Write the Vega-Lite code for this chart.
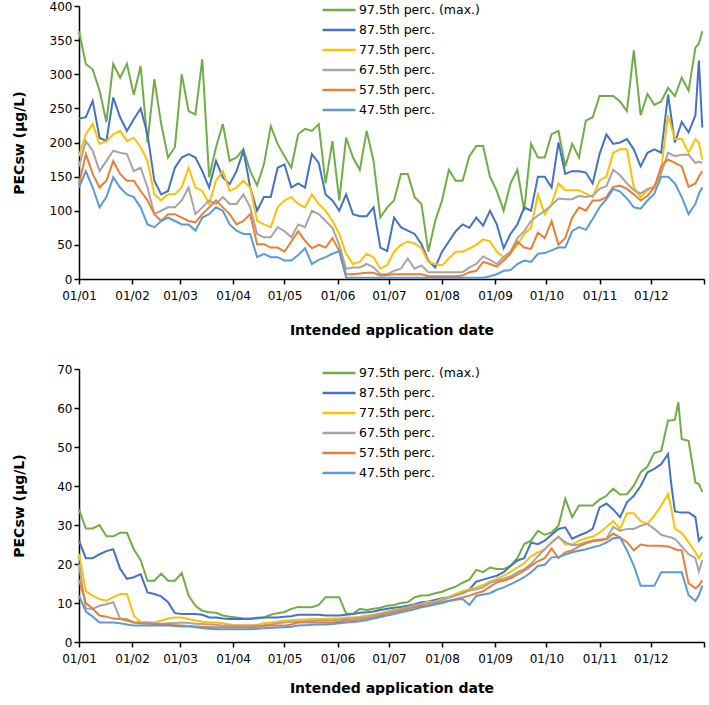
{
"$schema":"https://vega.github.io/schema/vega-lite/v6.json",
"padding":{"left":12,"top":0,"right":0,"bottom":0},
"autosize":{"type":"pad"},
"spacing":26,
"config":{
"view":{"stroke":null},
"font":"DejaVu Sans",
"axis":{"grid":false,"domainColor":"#000","tickColor":"#000","labelColor":"#000","titleColor":"#000","labelFont":"DejaVu Sans","labelFontSize":12,"titleFont":"DejaVu Sans","titleFontSize":14,"titleFontWeight":"bold","tickSize":5,"domainWidth":1.5,"tickWidth":1.5},
"legend":{"symbolType":"M-3,0H3","symbolSize":121,"symbolStrokeWidth":2.5,"labelFont":"DejaVu Sans","labelFontSize":12.5,"labelColor":"#000","rowPadding":6,"labelOffset":13,"padding":0}
},
"datasets":{
"top":[
{"d":"2021-01-01","g":363,"b":235,"y":180,"k":165,"o":139,"l":134},
{"d":"2021-01-05","g":315,"b":237,"y":212,"k":202,"o":183,"l":158},
{"d":"2021-01-09","g":307,"b":261,"y":227,"k":188,"o":154,"l":134},
{"d":"2021-01-13","g":276,"b":207,"y":198,"k":158,"o":134,"l":105},
{"d":"2021-01-17","g":230,"b":202,"y":202,"k":173,"o":144,"l":120},
{"d":"2021-01-21","g":315,"b":266,"y":212,"k":188,"o":173,"l":149},
{"d":"2021-01-25","g":295,"b":237,"y":217,"k":185,"o":154,"l":134},
{"d":"2021-01-29","g":315,"b":217,"y":202,"k":183,"o":144,"l":124},
{"d":"2021-02-02","g":270,"b":234,"y":207,"k":158,"o":144,"l":120},
{"d":"2021-02-06","g":312,"b":250,"y":193,"k":163,"o":129,"l":105},
{"d":"2021-02-10","g":200,"b":212,"y":173,"k":134,"o":115,"l":80},
{"d":"2021-02-14","g":293,"b":144,"y":124,"k":95,"o":95,"l":76},
{"d":"2021-02-18","g":227,"b":124,"y":115,"k":100,"o":85,"l":85},
{"d":"2021-02-22","g":178,"b":129,"y":124,"k":105,"o":95,"l":90},
{"d":"2021-02-26","g":193,"b":163,"y":124,"k":105,"o":95,"l":85},
{"d":"2021-03-02","g":300,"b":178,"y":134,"k":115,"o":90,"l":80},
{"d":"2021-03-06","g":246,"b":183,"y":163,"k":134,"o":85,"l":80},
{"d":"2021-03-10","g":241,"b":178,"y":134,"k":95,"o":83,"l":71},
{"d":"2021-03-14","g":322,"b":158,"y":129,"k":105,"o":95,"l":90},
{"d":"2021-03-18","g":149,"b":134,"y":110,"k":115,"o":105,"l":95},
{"d":"2021-03-22","g":193,"b":173,"y":144,"k":110,"o":115,"l":105},
{"d":"2021-03-26","g":227,"b":149,"y":158,"k":120,"o":105,"l":100},
{"d":"2021-03-30","g":173,"b":139,"y":129,"k":110,"o":95,"l":80},
{"d":"2021-04-03","g":178,"b":158,"y":134,"k":110,"o":80,"l":71},
{"d":"2021-04-07","g":190,"b":188,"y":144,"k":124,"o":85,"l":66},
{"d":"2021-04-11","g":158,"b":134,"y":134,"k":105,"o":95,"l":66},
{"d":"2021-04-15","g":137,"b":100,"y":85,"k":66,"o":51,"l":32},
{"d":"2021-04-19","g":168,"b":120,"y":80,"k":61,"o":51,"l":37},
{"d":"2021-04-23","g":224,"b":120,"y":76,"k":61,"o":46,"l":32},
{"d":"2021-04-27","g":198,"b":163,"y":105,"k":76,"o":46,"l":32},
{"d":"2021-05-01","g":180,"b":168,"y":115,"k":70,"o":40,"l":27},
{"d":"2021-05-05","g":163,"b":134,"y":120,"k":61,"o":55,"l":27},
{"d":"2021-05-09","g":212,"b":140,"y":110,"k":80,"o":70,"l":35},
{"d":"2021-05-13","g":220,"b":134,"y":105,"k":76,"o":56,"l":45},
{"d":"2021-05-17","g":217,"b":183,"y":124,"k":100,"o":45,"l":22},
{"d":"2021-05-21","g":227,"b":170,"y":110,"k":95,"o":50,"l":28},
{"d":"2021-05-25","g":140,"b":124,"y":100,"k":85,"o":46,"l":32},
{"d":"2021-05-29","g":202,"b":115,"y":85,"k":75,"o":60,"l":37},
{"d":"2021-06-02","g":115,"b":100,"y":66,"k":50,"o":41,"l":41},
{"d":"2021-06-06","g":207,"b":124,"y":37,"k":15,"o":7,"l":2},
{"d":"2021-06-10","g":178,"b":95,"y":22,"k":17,"o":7,"l":2},
{"d":"2021-06-14","g":160,"b":92,"y":25,"k":17,"o":8,"l":2},
{"d":"2021-06-18","g":217,"b":92,"y":37,"k":22,"o":9,"l":2},
{"d":"2021-06-22","g":173,"b":105,"y":32,"k":17,"o":9,"l":2},
{"d":"2021-06-26","g":90,"b":46,"y":15,"k":7,"o":5,"l":2},
{"d":"2021-06-30","g":105,"b":41,"y":20,"k":7,"o":6,"l":2},
{"d":"2021-07-04","g":115,"b":90,"y":40,"k":12,"o":7,"l":2},
{"d":"2021-07-08","g":154,"b":76,"y":50,"k":15,"o":7,"l":2},
{"d":"2021-07-12","g":154,"b":71,"y":55,"k":30,"o":7,"l":2},
{"d":"2021-07-16","g":120,"b":66,"y":52,"k":15,"o":7,"l":2},
{"d":"2021-07-20","g":110,"b":51,"y":45,"k":20,"o":7,"l":2},
{"d":"2021-07-24","g":40,"b":27,"y":25,"k":10,"o":4,"l":2},
{"d":"2021-07-28","g":85,"b":17,"y":22,"k":10,"o":4,"l":2},
{"d":"2021-08-01","g":115,"b":40,"y":20,"k":10,"o":4,"l":2},
{"d":"2021-08-05","g":160,"b":55,"y":30,"k":10,"o":4,"l":2},
{"d":"2021-08-09","g":144,"b":70,"y":40,"k":10,"o":4,"l":2},
{"d":"2021-08-13","g":144,"b":80,"y":40,"k":10,"o":5,"l":2},
{"d":"2021-08-17","g":180,"b":75,"y":45,"k":17,"o":10,"l":2},
{"d":"2021-08-21","g":195,"b":90,"y":50,"k":22,"o":12,"l":2},
{"d":"2021-08-25","g":195,"b":78,"y":58,"k":33,"o":25,"l":2},
{"d":"2021-08-29","g":150,"b":100,"y":55,"k":28,"o":22,"l":4},
{"d":"2021-09-02","g":129,"b":80,"y":40,"k":22,"o":18,"l":7},
{"d":"2021-09-06","g":100,"b":45,"y":32,"k":32,"o":27,"l":12},
{"d":"2021-09-10","g":140,"b":66,"y":40,"k":40,"o":37,"l":13},
{"d":"2021-09-14","g":160,"b":80,"y":50,"k":60,"o":55,"l":22},
{"d":"2021-09-18","g":100,"b":105,"y":66,"k":70,"o":46,"l":27},
{"d":"2021-09-22","g":198,"b":100,"y":75,"k":85,"o":44,"l":25},
{"d":"2021-09-26","g":178,"b":150,"y":124,"k":93,"o":68,"l":37},
{"d":"2021-09-30","g":178,"b":150,"y":95,"k":100,"o":60,"l":38},
{"d":"2021-10-04","g":212,"b":134,"y":110,"k":108,"o":85,"l":42},
{"d":"2021-10-08","g":217,"b":200,"y":140,"k":118,"o":50,"l":46},
{"d":"2021-10-12","g":165,"b":154,"y":130,"k":117,"o":60,"l":46},
{"d":"2021-10-16","g":198,"b":158,"y":130,"k":117,"o":90,"l":70},
{"d":"2021-10-20","g":178,"b":158,"y":130,"k":122,"o":105,"l":76},
{"d":"2021-10-24","g":232,"b":156,"y":125,"k":120,"o":100,"l":72},
{"d":"2021-10-28","g":237,"b":140,"y":120,"k":122,"o":115,"l":88},
{"d":"2021-11-01","g":268,"b":183,"y":144,"k":132,"o":115,"l":105},
{"d":"2021-11-05","g":268,"b":212,"y":150,"k":136,"o":120,"l":117},
{"d":"2021-11-09","g":268,"b":198,"y":185,"k":160,"o":135,"l":132},
{"d":"2021-11-13","g":260,"b":200,"y":190,"k":152,"o":137,"l":128},
{"d":"2021-11-17","g":246,"b":205,"y":190,"k":140,"o":132,"l":118},
{"d":"2021-11-21","g":335,"b":190,"y":134,"k":130,"o":124,"l":105},
{"d":"2021-11-25","g":240,"b":165,"y":120,"k":125,"o":115,"l":103},
{"d":"2021-11-29","g":271,"b":185,"y":130,"k":132,"o":122,"l":115},
{"d":"2021-12-03","g":255,"b":190,"y":135,"k":135,"o":134,"l":125},
{"d":"2021-12-07","g":260,"b":185,"y":160,"k":155,"o":165,"l":150},
{"d":"2021-12-11","g":280,"b":270,"y":240,"k":185,"o":175,"l":150},
{"d":"2021-12-15","g":268,"b":200,"y":205,"k":180,"o":170,"l":140},
{"d":"2021-12-19","g":295,"b":230,"y":205,"k":182,"o":165,"l":120},
{"d":"2021-12-23","g":276,"b":215,"y":185,"k":182,"o":135,"l":95},
{"d":"2021-12-27","g":339,"b":240,"y":205,"k":170,"o":140,"l":110},
{"d":"2021-12-29","g":345,"b":320,"y":200,"k":172,"o":150,"l":125},
{"d":"2021-12-31","g":363,"b":222,"y":175,"k":170,"o":158,"l":134}
],
"bot":[
{"d":"2021-01-01","g":34,"b":26,"y":22.6,"k":20,"o":16,"l":11.9},
{"d":"2021-01-05","g":29.1,"b":21.5,"y":13,"k":8.5,"o":10,"l":7.8},
{"d":"2021-01-09","g":29.1,"b":21.5,"y":11.9,"k":8.5,"o":8.5,"l":6.5},
{"d":"2021-01-13","g":30,"b":22.5,"y":11,"k":9.3,"o":6.8,"l":5},
{"d":"2021-01-17","g":27.1,"b":23.3,"y":10.6,"k":9.7,"o":6.5,"l":5},
{"d":"2021-01-21","g":27.1,"b":23.8,"y":11.5,"k":10.2,"o":6,"l":5},
{"d":"2021-01-25","g":28,"b":18.8,"y":12.3,"k":6,"o":5.9,"l":4.8},
{"d":"2021-01-29","g":28,"b":16.2,"y":12.3,"k":5.9,"o":5.5,"l":4.5},
{"d":"2021-02-02","g":23.8,"b":16.6,"y":6.8,"k":5,"o":5,"l":4.2},
{"d":"2021-02-06","g":21,"b":17.4,"y":5,"k":5,"o":4.8,"l":4.2},
{"d":"2021-02-10","g":15.7,"b":12.7,"y":5,"k":5,"o":4.7,"l":4.2},
{"d":"2021-02-14","g":15.7,"b":12.3,"y":5,"k":4.8,"o":4.6,"l":4.2},
{"d":"2021-02-18","g":17.5,"b":11.7,"y":5.5,"k":4.7,"o":4.5,"l":4.2},
{"d":"2021-02-22","g":15.7,"b":10.2,"y":6,"k":4.8,"o":4.4,"l":4.2},
{"d":"2021-02-26","g":15.7,"b":7.4,"y":6.3,"k":4.9,"o":4.3,"l":4.1},
{"d":"2021-03-02","g":17.7,"b":7.2,"y":6.3,"k":5,"o":4.2,"l":4},
{"d":"2021-03-06","g":11.9,"b":7.2,"y":5.9,"k":4.9,"o":4.1,"l":4},
{"d":"2021-03-10","g":9.3,"b":7.2,"y":5.5,"k":4.7,"o":4,"l":3.8},
{"d":"2021-03-14","g":8,"b":7,"y":5.2,"k":4.6,"o":3.9,"l":3.6},
{"d":"2021-03-18","g":7.6,"b":6.3,"y":5,"k":4.5,"o":3.8,"l":3.4},
{"d":"2021-03-22","g":7.5,"b":6.3,"y":5,"k":4.4,"o":3.8,"l":3.3},
{"d":"2021-03-26","g":6.8,"b":6,"y":4.8,"k":4.2,"o":3.8,"l":3.3},
{"d":"2021-03-30","g":6.5,"b":5.9,"y":4.5,"k":4.2,"o":3.8,"l":3.3},
{"d":"2021-04-03","g":6.3,"b":5.9,"y":4.2,"k":4.2,"o":3.8,"l":3.3},
{"d":"2021-04-07","g":6,"b":5.9,"y":4.2,"k":4.2,"o":3.8,"l":3.3},
{"d":"2021-04-11","g":6,"b":5.9,"y":4.2,"k":4.2,"o":3.8,"l":3.3},
{"d":"2021-04-15","g":6,"b":6.2,"y":4.4,"k":4.2,"o":3.9,"l":3.4},
{"d":"2021-04-19","g":6.3,"b":6.3,"y":4.8,"k":4.3,"o":4.1,"l":3.5},
{"d":"2021-04-23","g":7,"b":6.3,"y":5,"k":4.5,"o":4.2,"l":3.6},
{"d":"2021-04-27","g":7.4,"b":6.3,"y":5.2,"k":4.8,"o":4.2,"l":3.7},
{"d":"2021-05-01","g":7.7,"b":6.5,"y":5.5,"k":5,"o":4.2,"l":3.8},
{"d":"2021-05-05","g":8.5,"b":6.6,"y":5.6,"k":5.2,"o":4.5,"l":3.9},
{"d":"2021-05-09","g":9,"b":7,"y":5.7,"k":5.2,"o":5,"l":4.2},
{"d":"2021-05-13","g":8.9,"b":7,"y":5.8,"k":5.3,"o":5,"l":4.3},
{"d":"2021-05-17","g":8.9,"b":7,"y":5.9,"k":5.4,"o":5,"l":4.4},
{"d":"2021-05-21","g":9.5,"b":7,"y":5.9,"k":5.5,"o":5,"l":4.5},
{"d":"2021-05-25","g":11.5,"b":6.8,"y":5.9,"k":5.5,"o":5,"l":4.5},
{"d":"2021-05-29","g":11.5,"b":6.8,"y":6,"k":5.6,"o":5,"l":4.6},
{"d":"2021-06-02","g":11.5,"b":6.8,"y":6,"k":5.7,"o":5.2,"l":4.8},
{"d":"2021-06-06","g":7.3,"b":7,"y":6.3,"k":5.9,"o":5.5,"l":5},
{"d":"2021-06-10","g":7.2,"b":7.2,"y":6.3,"k":6,"o":5.5,"l":5.1},
{"d":"2021-06-14","g":8.5,"b":7.5,"y":6.5,"k":6.2,"o":5.8,"l":5.3},
{"d":"2021-06-18","g":8.2,"b":7.6,"y":6.8,"k":6.4,"o":6,"l":5.6},
{"d":"2021-06-22","g":8.5,"b":7.8,"y":7,"k":6.8,"o":6.3,"l":6},
{"d":"2021-06-26","g":8.8,"b":8.2,"y":7.4,"k":7.2,"o":6.8,"l":6.4},
{"d":"2021-06-30","g":9.3,"b":8.5,"y":7.8,"k":7.6,"o":7.2,"l":6.8},
{"d":"2021-07-04","g":9.5,"b":8.8,"y":8.3,"k":8,"o":7.6,"l":7.2},
{"d":"2021-07-08","g":10,"b":9,"y":8.5,"k":8.5,"o":8,"l":7.6},
{"d":"2021-07-12","g":10.2,"b":9.3,"y":8.8,"k":9,"o":8.5,"l":8},
{"d":"2021-07-16","g":11.5,"b":9.7,"y":9,"k":9.5,"o":8.9,"l":8.4},
{"d":"2021-07-20","g":11.9,"b":10.2,"y":9.8,"k":9.7,"o":9.3,"l":8.9},
{"d":"2021-07-24","g":12,"b":10.4,"y":10.3,"k":10,"o":9.5,"l":9.2},
{"d":"2021-07-28","g":12.5,"b":10.8,"y":10.4,"k":10.2,"o":9.8,"l":9.6},
{"d":"2021-08-01","g":12.9,"b":11.2,"y":11,"k":10.7,"o":10.2,"l":10},
{"d":"2021-08-05","g":13.6,"b":11.5,"y":11.5,"k":11.3,"o":10.6,"l":10.5},
{"d":"2021-08-09","g":14.2,"b":12,"y":12.3,"k":12,"o":11,"l":10.8},
{"d":"2021-08-13","g":15.2,"b":12.5,"y":13,"k":12.5,"o":11.4,"l":11},
{"d":"2021-08-17","g":16,"b":13.5,"y":13.5,"k":13.2,"o":11.9,"l":9.5},
{"d":"2021-08-21","g":18.5,"b":15.5,"y":14,"k":13.5,"o":12.5,"l":11.8},
{"d":"2021-08-25","g":17.9,"b":16,"y":14.6,"k":14,"o":13,"l":12.2},
{"d":"2021-08-29","g":19.1,"b":16.5,"y":15.5,"k":15.2,"o":14.2,"l":12.5},
{"d":"2021-09-02","g":18.7,"b":17,"y":16.2,"k":15.8,"o":15.3,"l":13.4},
{"d":"2021-09-06","g":18.7,"b":17.9,"y":17,"k":16.2,"o":15.7,"l":14},
{"d":"2021-09-10","g":19.6,"b":19.5,"y":18,"k":16.8,"o":16.3,"l":14.8},
{"d":"2021-09-14","g":21.5,"b":20.9,"y":19.1,"k":17.9,"o":17.3,"l":15.7},
{"d":"2021-09-18","g":25.1,"b":21.5,"y":20.2,"k":18.7,"o":18.3,"l":16.6},
{"d":"2021-09-22","g":26,"b":25.5,"y":22,"k":20,"o":19.5,"l":17.9},
{"d":"2021-09-26","g":28.5,"b":25.1,"y":23,"k":22,"o":20.7,"l":19.5},
{"d":"2021-09-30","g":27.5,"b":26,"y":23.8,"k":23.8,"o":21.5,"l":19.8},
{"d":"2021-10-04","g":28.1,"b":27.5,"y":25.5,"k":25.5,"o":24,"l":21.7},
{"d":"2021-10-08","g":29.8,"b":29,"y":27,"k":27,"o":21.5,"l":21.8},
{"d":"2021-10-12","g":36.7,"b":29.4,"y":25,"k":25.6,"o":23,"l":22.4},
{"d":"2021-10-16","g":32,"b":26.5,"y":25,"k":24.8,"o":23.5,"l":23},
{"d":"2021-10-20","g":35,"b":27.3,"y":26,"k":25,"o":24.5,"l":23.4},
{"d":"2021-10-24","g":35,"b":28,"y":26.6,"k":25.6,"o":25.3,"l":23.8},
{"d":"2021-10-28","g":35,"b":29,"y":27,"k":26,"o":25.8,"l":24.3},
{"d":"2021-11-01","g":36.5,"b":34.5,"y":28,"k":26.3,"o":26,"l":24.7},
{"d":"2021-11-05","g":37.5,"b":35.5,"y":29.5,"k":26.5,"o":26.3,"l":25.5},
{"d":"2021-11-09","g":39.3,"b":34,"y":31,"k":29.5,"o":27.8,"l":26.6},
{"d":"2021-11-13","g":37.8,"b":32,"y":29,"k":28.5,"o":26.8,"l":26.8},
{"d":"2021-11-17","g":37.9,"b":35.8,"y":33,"k":29,"o":25.6,"l":23.5},
{"d":"2021-11-21","g":40.1,"b":37.5,"y":33,"k":29,"o":23.5,"l":19.6},
{"d":"2021-11-25","g":43.5,"b":40,"y":31,"k":29.8,"o":25,"l":14.4},
{"d":"2021-11-29","g":45,"b":43.5,"y":30.3,"k":30.3,"o":24.7,"l":14.4},
{"d":"2021-12-03","g":48.5,"b":44.4,"y":32.4,"k":29,"o":24.7,"l":14.4},
{"d":"2021-12-07","g":49,"b":45.6,"y":35,"k":27.5,"o":24.7,"l":17.9},
{"d":"2021-12-11","g":56.8,"b":48.2,"y":37.9,"k":27,"o":24.5,"l":17.9},
{"d":"2021-12-13","g":56.8,"b":40,"y":34,"k":26.8,"o":24.2,"l":17.9},
{"d":"2021-12-15","g":57,"b":33.5,"y":29,"k":26.4,"o":23.8,"l":17.9},
{"d":"2021-12-17","g":61.5,"b":33.3,"y":28.5,"k":25.5,"o":23.6,"l":17.9},
{"d":"2021-12-19","g":52,"b":33.2,"y":28,"k":24.5,"o":23.5,"l":17.9},
{"d":"2021-12-23","g":51.6,"b":33.2,"y":25.6,"k":22.5,"o":15,"l":12},
{"d":"2021-12-27","g":40.9,"b":32,"y":23,"k":21.5,"o":13.8,"l":10.5},
{"d":"2021-12-29","g":40.5,"b":26,"y":21.5,"k":18,"o":14.5,"l":12},
{"d":"2021-12-31","g":38.5,"b":27,"y":23,"k":21,"o":15.8,"l":14.4}
]
},
"vconcat":[
{
"width":625,"height":273,
"data":{"name":"top"},
"transform":[{"fold":["g","b","y","k","o","l"],"as":["s","v"]}],
"mark":{"type":"line","strokeWidth":2},
"encoding":{
"x":{"field":"d","type":"temporal","scale":{"type":"utc","nice":false,"domain":[{"year":2021,"month":1,"date":1,"utc":true},{"year":2022,"month":1,"date":1,"utc":true}]},"axis":{"title":"Intended application date","format":"%d/%m","tickCount":{"interval":"month","step":1},"labelExpr":"utcyear(datum.value) > 2021 ? '' : datum.label","labelPadding":6,"titlePadding":22,"labelOverlap":false,"labelFlush":false}},
"y":{"field":"v","type":"quantitative","scale":{"domain":[0,400],"nice":false},"axis":{"title":"PECsw (µg/L)","values":[0,50,100,150,200,250,300,350,400],"labelPadding":2,"minExtent":30,"maxExtent":30,"titlePadding":23}},
"color":{"field":"s","type":"nominal","scale":{"domain":["g","b","y","k","o","l"],"range":["#70AD47","#4472C4","#FFC000","#A5A5A5","#ED7D31","#5B9BD5"]},"legend":{"title":null,"orient":"none","legendX":253,"legendY":-3,"labelExpr":"datum.label=='g'?'97.5th perc. (max.)':datum.label=='b'?'87.5th perc.':datum.label=='y'?'77.5th perc.':datum.label=='k'?'67.5th perc.':datum.label=='o'?'57.5th perc.':'47.5th perc.'"}}
}
},
{
"width":625,"height":273,
"data":{"name":"bot"},
"transform":[{"fold":["g","b","y","k","o","l"],"as":["s","v"]}],
"mark":{"type":"line","strokeWidth":2},
"encoding":{
"x":{"field":"d","type":"temporal","scale":{"type":"utc","nice":false,"domain":[{"year":2021,"month":1,"date":1,"utc":true},{"year":2022,"month":1,"date":1,"utc":true}]},"axis":{"title":"Intended application date","format":"%d/%m","tickCount":{"interval":"month","step":1},"labelExpr":"utcyear(datum.value) > 2021 ? '' : datum.label","labelPadding":6,"titlePadding":17,"labelOverlap":false,"labelFlush":false}},
"y":{"field":"v","type":"quantitative","scale":{"domain":[0,70],"nice":false},"axis":{"title":"PECsw (µg/L)","values":[0,10,20,30,40,50,60,70],"labelPadding":2,"minExtent":30,"maxExtent":30,"titlePadding":23}},
"color":{"field":"s","type":"nominal","scale":{"domain":["g","b","y","k","o","l"],"range":["#70AD47","#4472C4","#FFC000","#A5A5A5","#ED7D31","#5B9BD5"]},"legend":{"title":null,"orient":"none","legendX":253,"legendY":-3,"labelExpr":"datum.label=='g'?'97.5th perc. (max.)':datum.label=='b'?'87.5th perc.':datum.label=='y'?'77.5th perc.':datum.label=='k'?'67.5th perc.':datum.label=='o'?'57.5th perc.':'47.5th perc.'"}}
}
}
],
"resolve":{"scale":{"color":"independent"},"legend":{"color":"independent"}}
}
